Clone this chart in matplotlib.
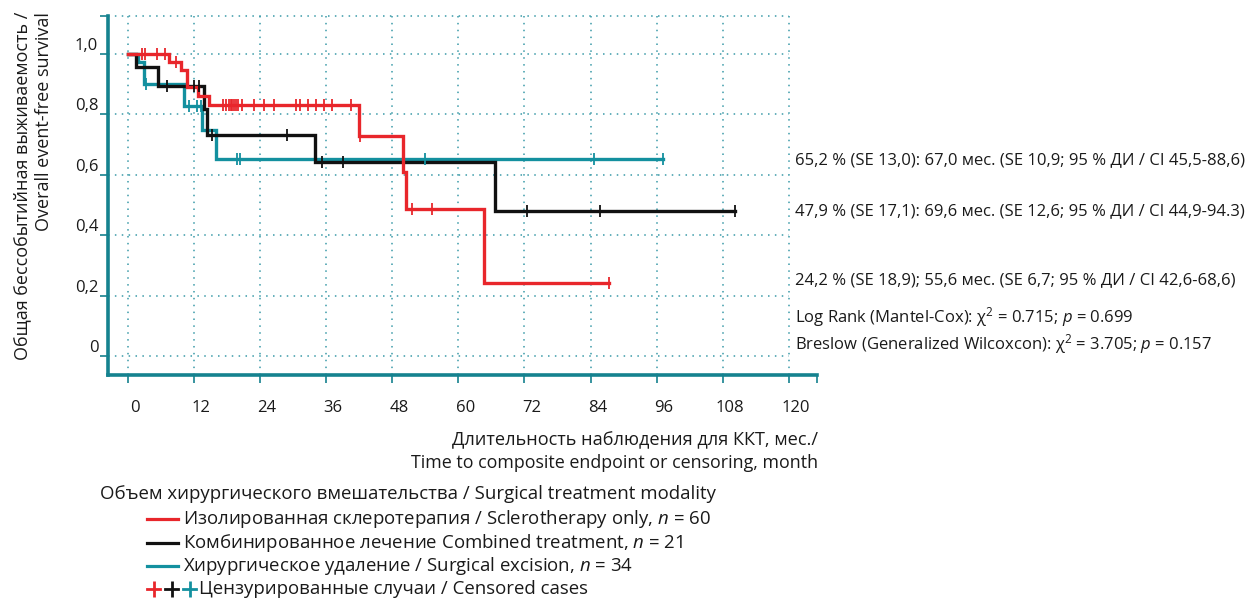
import numpy as np
import matplotlib
matplotlib.use("Agg")
import matplotlib.pyplot as plt
from matplotlib.lines import Line2D
from matplotlib.transforms import ScaledTranslation

plt.rcParams['font.family'] = ['Open Sans', 'DejaVu Sans']
plt.rcParams['mathtext.fontset'] = 'custom'
plt.rcParams['mathtext.rm'] = 'Open Sans'
plt.rcParams['mathtext.it'] = 'Open Sans:italic'

# Kaplan-Meier steps (months, survival after event)
red_t = [7.6, 9.7, 10.7, 12.7, 14.7, 42.0, 49.9, 50.5, 64.6]
red_s = [0.971, 0.946, 0.891, 0.860, 0.830, 0.728, 0.609, 0.487, 0.242]
red_cens = [2.7, 3.1, 5.4, 6.7, 8.7, 17.3, 17.8, 18.4, 18.7, 19.0, 19.3, 19.6,
            20.0, 20.8, 22.9, 24.8, 26.6, 30.5, 31.2, 32.7, 34.1, 35.6, 37.1,
            40.6, 42.1, 51.6, 55.3, 87.4]

blk_t = [1.6, 5.6, 13.9, 14.4, 34.0, 66.7]
blk_s = [0.955, 0.893, 0.816, 0.731, 0.642, 0.479]
blk_cens = [7.1, 12.1, 12.9, 15.4, 28.9, 35.3, 39.0, 72.4, 85.7, 110.2]

teal_t = [1.8, 3.0, 10.2, 13.5, 16.1]
teal_s = [0.971, 0.900, 0.827, 0.748, 0.652]
teal_cens = [3.3, 11.2, 12.5, 13.3, 19.8, 20.4, 53.9, 84.7, 97.2]

xticks = [0, 12, 24, 36, 48, 60, 72, 84, 96, 108, 120]
yticks = [0, 0.2, 0.4, 0.6, 0.8, 1.0]
ylabels = ['0', '0,2', '0,4', '0,6', '0,8', '1,0']

RED = '#e8262b'
BLACK = '#111111'
TEAL = '#13909f'
AXC = '#15828f'
GRID = '#3a9aa8'
TXT = '#1a1a1a'

annotations = [
    "65,2 % (SE 13,0): 67,0 мес. (SE 10,9; 95 % ДИ / CI 45,5-88,6)",
    "47,9 % (SE 17,1): 69,6 мес. (SE 12,6; 95 % ДИ / CI 44,9-94.3)",
    "24,2 % (SE 18,9); 55,6 мес. (SE 6,7; 95 % ДИ / CI 42,6-68,6)",
    r"Log Rank (Mantel-Cox): χ$^2$ = 0.715; $p$ = 0.699",
    r"Breslow (Generalized Wilcoxcon): χ$^2$ = 3.705; $p$ = 0.157",
]
legend_items = [
    (RED, r"Изолированная склеротерапия / Sclerotherapy only, $n$ = 60"),
    (BLACK, r"Комбинированное лечение Combined treatment, $n$ = 21"),
    (TEAL, r"Хирургическое удаление / Surgical excision, $n$ = 34"),
]

W, H = 1250, 604
fig = plt.figure(figsize=(W / 100, H / 100), dpi=100)
xmin, xmax = -3.56, 125.1
ymin, ymax = -0.062, 1.1256
ax = fig.add_axes([108 / W, (H - 375) / H, (817 - 108) / W, (375 - 15.7) / H])
ax.set_xlim(xmin, xmax)
ax.set_ylim(ymin, ymax)

# dotted grid
dots = (0, (1, 3.5))
for x in xticks:
    ax.plot([x, x], [ymin, ymax], ls=dots, color=GRID, lw=1.1, zorder=1)
for y in yticks + [ymax]:
    ax.plot([xmin, 120], [y, y], ls=dots, color=GRID, lw=1.1, zorder=1,
            clip_on=False)


def km(t, s, cens, color):
    end = max(cens)
    xs = [0] + list(t) + [end]
    ys = [1.0] + list(s) + [s[-1]]
    ax.step(xs, ys, where='post', color=color, lw=2.4, zorder=3,
            solid_joinstyle='miter')
    idx = np.searchsorted(t, cens, side='right')
    sv = np.concatenate([[1.0], s])[idx]
    ax.plot(cens, sv, ls='none', marker='|', ms=9, mew=1.3, color=color,
            zorder=4)


km(teal_t, teal_s, teal_cens, TEAL)
km(blk_t, blk_s, blk_cens, BLACK)
km(red_t, red_s, red_cens, RED)

for sp in ['top', 'right']:
    ax.spines[sp].set_visible(False)
for sp in ['left', 'bottom']:
    ax.spines[sp].set_color(AXC)
    ax.spines[sp].set_linewidth(2.6)

ax.set_xticks(xticks + [xmax])
ax.set_xticklabels([str(v) for v in xticks] + [''])
ax.set_yticks(yticks + [ymax])
ax.set_yticklabels(ylabels + [''])
ax.tick_params(axis='both', color=AXC, width=1.2, length=6, labelsize=12,
               labelcolor=TXT)
ax.tick_params(axis='x', pad=12)
ax.tick_params(axis='y', pad=1)
for lbl in ax.get_xticklabels():
    lbl.set_transform(lbl.get_transform() +
                      ScaledTranslation(7 / 100, 0, fig.dpi_scale_trans))
for lbl in ax.get_yticklabels():
    lbl.set_verticalalignment('bottom')

# axis titles
fig.text(818 / W, 1 - 440 / H, "Длительность наблюдения для ККТ, мес./",
         ha='right', va='center', fontsize=13.1, color=TXT)
fig.text(818 / W, 1 - 463 / H, "Time to composite endpoint or censoring, month",
         ha='right', va='center', fontsize=12.9, color=TXT)
fig.text(33 / W, 1 - 186 / H,
         "Общая бессобытийная выживаемость /\nOverall event-free survival",
         rotation=90, ha='center', va='center', multialignment='right',
         fontsize=13, color=TXT, linespacing=1.25)

# annotations on the right
for txt, yp in zip(annotations, [160, 211, 280, 317, 344]):
    fig.text(795 / W, 1 - yp / H, txt, ha='left', va='center',
             fontsize=12, color=TXT)

# legend block
fig.text(100 / W, 1 - 494 / H,
         "Объем хирургического вмешательства / Surgical treatment modality",
         ha='left', va='center', fontsize=13.4, color=TXT)
for i, (c, txt) in enumerate(legend_items):
    yy = 1 - (519 + 23.5 * i) / H
    fig.add_artist(Line2D([147 / W, 178 / W], [yy, yy], color=c, lw=2.3,
                          transform=fig.transFigure))
    fig.text(183 / W, yy, txt, ha='left', va='center', fontsize=13.4,
             color=TXT)
yy = 1 - 589 / H
for j, c in enumerate([RED, BLACK, TEAL]):
    x0 = 147 + 18 * j
    fig.add_artist(Line2D([x0 / W, (x0 + 13) / W], [yy, yy], color=c, lw=2.0,
                          transform=fig.transFigure))
    fig.add_artist(Line2D([(x0 + 6.5) / W], [yy], color=c, marker='|', ms=11,
                          mew=2.0, transform=fig.transFigure))
fig.text(199 / W, yy, "Цензурированные случаи / Censored cases",
         ha='left', va='center', fontsize=13.4, color=TXT)

fig.savefig('out.png', dpi=100)
